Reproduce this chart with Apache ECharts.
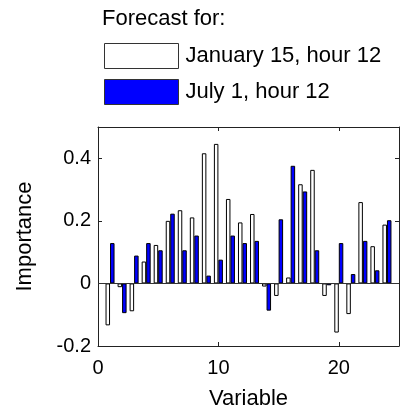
<!DOCTYPE html>
<html>
<head>
<meta charset="utf-8">
<script src="https://cdn.jsdelivr.net/npm/echarts@6/dist/echarts.min.js"></script>
<style>
html,body{margin:0;padding:0;background:#fff;}
#chart{width:406px;height:409px;}
</style>
</head>
<body>
<div id="chart"></div>
<script>
var variables = [1,2,3,4,5,6,7,8,9,10,11,12,13,14,15,16,17,18,19,20,21,22,23,24];
var january = [-0.134,-0.012,-0.089,0.070,0.123,0.200,0.234,0.211,0.416,0.446,0.270,0.195,0.222,-0.010,-0.040,0.019,0.317,0.363,-0.040,-0.157,-0.098,0.260,0.119,0.188];
var july = [0.129,-0.095,0.089,0.129,0.106,0.223,0.106,0.153,0.025,0.076,0.153,0.129,0.136,-0.087,0.205,0.376,0.294,0.106,-0.006,0.129,0.030,0.136,0.042,0.202];
var seriesNames = ['January 15, hour 12', 'July 1, hour 12'];
var yTicks = [-0.2, 0, 0.2, 0.4];
var xTicks = [0, 10, 20];

var font = 'Liberation Sans, Arial, sans-serif';
var axisColor = '#222';
var tickFont = 20;
var labelFont = 22;

function pairs(vals){ return variables.map(function(v,i){ return [v, vals[i]]; }); }

var chart = echarts.init(document.getElementById('chart'), null, {renderer:'canvas'});
var option = {
  animation: false,
  backgroundColor: '#fff',
  title: {
    text: 'Forecast for:',
    left: 102, top: 8, padding: 0,
    textStyle: {fontFamily: font, fontSize: labelFont, fontWeight: 'normal', color: '#000'}
  },
  legend: {
    orient: 'vertical',
    left: 104, top: 43, padding: 0,
    itemWidth: 74, itemHeight: 25,
    itemGap: 10,
    icon: 'rect',
    data: seriesNames,
    itemStyle: {borderWidth: 1, borderColor: '#333'},
    textStyle: {fontFamily: font, fontSize: labelFont, color: '#000', padding: [0,0,0,2]}
  },
  grid: {left: 98, right: 7, top: 127, bottom: 63, containLabel: false, outerBoundsMode: 'none'},
  xAxis: [{
    type: 'value', min: 0, max: 25, interval: 10,
    position: 'bottom',
    name: 'Variable', nameLocation: 'middle', nameGap: 42,
    nameTextStyle: {fontFamily: font, fontSize: labelFont, color: '#000'},
    axisLine: {show: true, onZero: false, lineStyle: {color: axisColor, width: 1}},
    axisTick: {show: true, inside: true, length: 4, lineStyle: {color: axisColor}},
    axisLabel: {fontFamily: font, fontSize: tickFont, color: '#000', margin: 12, showMaxLabel: false,
      formatter: function(v){ return xTicks.indexOf(v) >= 0 ? String(v) : ''; }},
    splitLine: {show: false}
  },{
    type: 'value', min: 0, max: 25, interval: 10,
    position: 'top',
    axisLine: {show: true, onZero: false, lineStyle: {color: axisColor, width: 1}},
    axisTick: {show: true, inside: true, length: 4, lineStyle: {color: axisColor}},
    axisLabel: {show: false},
    splitLine: {show: false}
  }],
  yAxis: [{
    type: 'value', min: -0.2, max: 0.5, interval: 0.2,
    position: 'left',
    name: 'Importance', nameLocation: 'middle', nameGap: 62, nameRotate: 90,
    nameTextStyle: {fontFamily: font, fontSize: labelFont, color: '#000'},
    axisLine: {show: true, onZero: false, lineStyle: {color: axisColor, width: 1}},
    axisTick: {show: true, inside: true, length: 4, lineStyle: {color: axisColor}},
    axisLabel: {fontFamily: font, fontSize: tickFont, color: '#000', margin: 7, showMaxLabel: false,
      formatter: function(v){
        var r = Math.round(v*10)/10;
        for (var i=0;i<yTicks.length;i++){ if (Math.abs(yTicks[i]-r) < 1e-9) return String(yTicks[i]); }
        return '';
      }},
    splitLine: {show: false}
  },{
    type: 'value', min: -0.2, max: 0.5, interval: 0.2,
    position: 'right',
    axisLine: {show: true, onZero: false, lineStyle: {color: axisColor, width: 1}},
    axisTick: {show: true, inside: true, length: 4, lineStyle: {color: axisColor}},
    axisLabel: {show: false},
    splitLine: {show: false}
  }],
  series: [{
    name: seriesNames[0],
    type: 'bar',
    xAxisIndex: 0, yAxisIndex: 0,
    data: pairs(january),
    barWidth: 4.5,
    barGap: '0%',
    itemStyle: {color: '#ffffff', borderColor: '#000', borderWidth: 1},
    markLine: {
      silent: true, symbol: 'none',
      label: {show: false},
      lineStyle: {color: '#333', width: 1, type: 'solid'},
      data: [{yAxis: 0}]
    }
  },{
    name: seriesNames[1],
    type: 'bar',
    xAxisIndex: 0, yAxisIndex: 0,
    data: pairs(july),
    barWidth: 4.5,
    barGap: '0%',
    itemStyle: {color: '#0000ff', borderColor: '#000', borderWidth: 1}
  }]
};
chart.setOption(option);
</script>
</body>
</html>
